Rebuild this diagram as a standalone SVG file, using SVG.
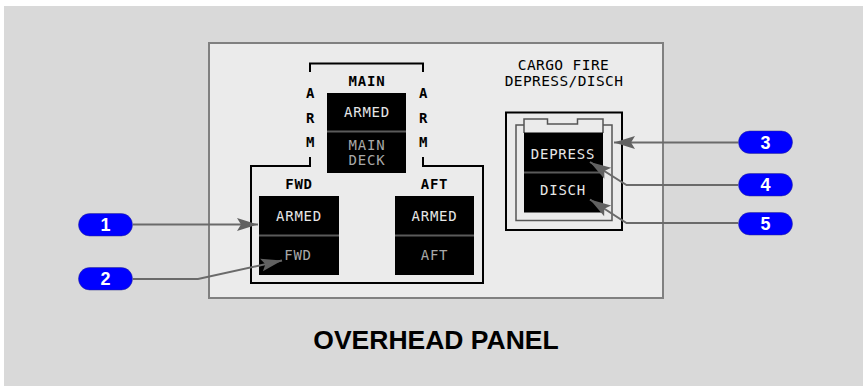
<svg xmlns="http://www.w3.org/2000/svg" width="865" height="387" viewBox="0 0 865 387">
<style>
.lbl{font-family:"DejaVu Sans Mono","Liberation Mono",monospace;font-size:14px;font-weight:bold;fill:#000;text-anchor:middle;dominant-baseline:central;letter-spacing:0.8px}
.sw{font-family:"DejaVu Sans Mono","Liberation Mono",monospace;font-size:14px;fill:#e6e6e6;text-anchor:middle;dominant-baseline:central;letter-spacing:0.8px}
.swd{fill:#a8a8a8}
.ttl{font-family:"DejaVu Sans Mono","Liberation Mono",monospace;font-size:14.5px;fill:#000;text-anchor:middle;dominant-baseline:central;letter-spacing:0.4px}
.blk{fill:#000}
.div{stroke:#5a5a5a;stroke-width:2}
.br{fill:none;stroke:#000;stroke-width:2}
.ld{fill:none;stroke:#6a6a6a;stroke-width:2}
.bdg{fill:#0000ff;stroke:#2a2a8a;stroke-width:0.5}
.num{font-family:"Liberation Sans",Arial,sans-serif;font-size:18px;font-weight:bold;fill:#fff;text-anchor:middle;dominant-baseline:central}
</style>
<defs>
<marker id="ah" markerUnits="userSpaceOnUse" markerWidth="24" markerHeight="16" viewBox="-23 -8 24 16" refX="0" refY="0" orient="auto">
<path d="M0,0 L-21,-6.5 L-17,0 L-21,6.5 Z" fill="#616161"/>
</marker>
</defs>
<rect x="4" y="6" width="859" height="380" fill="#d9d9d9"/>
<rect x="209" y="43" width="454" height="255" fill="#ebebeb" stroke="#808080" stroke-width="2"/>
<text x="436" y="340" font-family="'Liberation Sans',Arial,sans-serif" font-size="26.5" font-weight="bold" text-anchor="middle" dominant-baseline="central" fill="#000">OVERHEAD PANEL</text>

<g id="arm-bracket">
<path class="br" d="M310,72 V63.5 H423 V72"/>
<path class="br" d="M310,157 V166 H251 V283 H483 V166 H423 V157"/>
<text class="lbl" x="310.5" y="93">A</text>
<text class="lbl" x="310.5" y="118">R</text>
<text class="lbl" x="310.5" y="142">M</text>
<text class="lbl" x="423.5" y="93">A</text>
<text class="lbl" x="423.5" y="118">R</text>
<text class="lbl" x="423.5" y="142">M</text>
</g>

<g id="main-switch">
<text class="lbl" x="367" y="81">MAIN</text>
<rect class="blk" x="327" y="93" width="79" height="80"/>
<line class="div" x1="327" y1="131.5" x2="406" y2="131.5"/>
<text class="sw" x="367" y="112">ARMED</text>
<text class="sw swd" x="367" y="144.5">MAIN</text>
<text class="sw swd" x="367" y="159.5">DECK</text>
</g>

<g id="fwd-switch">
<text class="lbl" x="299" y="184">FWD</text>
<rect class="blk" x="259" y="196" width="80" height="79"/>
<line class="div" x1="259" y1="235.5" x2="339" y2="235.5"/>
<text class="sw" x="299" y="215.5">ARMED</text>
<text class="sw swd" x="298" y="254.5">FWD</text>
</g>

<g id="aft-switch">
<text class="lbl" x="434.5" y="184">AFT</text>
<rect class="blk" x="395" y="196" width="79" height="79"/>
<line class="div" x1="395" y1="235.5" x2="474" y2="235.5"/>
<text class="sw" x="434.5" y="215.5">ARMED</text>
<text class="sw swd" x="434.5" y="254.5">AFT</text>
</g>

<g id="cargo-fire-switch">
<text class="ttl" x="563.5" y="65">CARGO FIRE</text>
<text class="ttl" x="564" y="81">DEPRESS/DISCH</text>
<rect x="506" y="112.5" width="116" height="117.5" fill="none" stroke="#000" stroke-width="2"/>
<path d="M524,125 H516 V220.5 H612 V125 H603" fill="none" stroke="#555" stroke-width="1.5"/>
<path d="M524,133 V119 H547.5 V124 H577.5 V119 H603 V133" fill="none" stroke="#555" stroke-width="1.5"/>
<rect class="blk" x="524" y="132.5" width="79" height="80"/>
<line class="div" x1="524" y1="172.5" x2="603" y2="172.5"/>
<text class="sw" x="563" y="154">DEPRESS</text>
<text class="sw" x="563" y="190">DISCH</text>
</g>

<g id="connectors">
<path class="ld" d="M133,224.5 H258" marker-end="url(#ah)"/>
<path class="ld" d="M133,279 H198 L282,260.5" marker-end="url(#ah)"/>
<path class="ld" d="M738,142.5 H614" marker-end="url(#ah)"/>
<path class="ld" d="M738,185 H626.5 L590,162" marker-end="url(#ah)"/>
<path class="ld" d="M738,223 H626.5 L590,199.5" marker-end="url(#ah)"/>
</g>

<g id="callout-1"><rect class="bdg" x="78.5" y="213.5" width="54" height="22.5" rx="11.25"/><text class="num" x="105.5" y="225">1</text></g>
<g id="callout-2"><rect class="bdg" x="78.5" y="267.5" width="54" height="22.5" rx="11.25"/><text class="num" x="105.5" y="279">2</text></g>
<g id="callout-3"><rect class="bdg" x="738.5" y="131" width="54" height="22.5" rx="11.25"/><text class="num" x="765.5" y="142.5">3</text></g>
<g id="callout-4"><rect class="bdg" x="738.5" y="173.5" width="54" height="22.5" rx="11.25"/><text class="num" x="765.5" y="185">4</text></g>
<g id="callout-5"><rect class="bdg" x="738.5" y="212.5" width="54" height="22.5" rx="11.25"/><text class="num" x="765.5" y="224">5</text></g>
</svg>
